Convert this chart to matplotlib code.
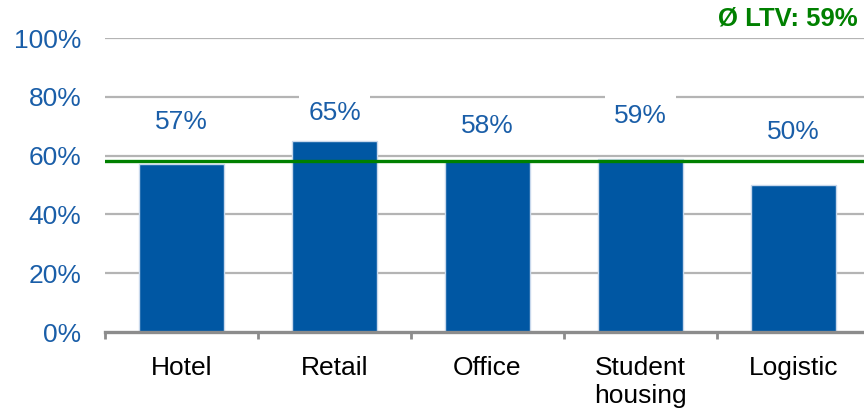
import matplotlib
matplotlib.use('Agg')
import matplotlib.pyplot as plt
from matplotlib.ticker import FixedLocator, PercentFormatter

# 数据
categories = ['Hotel', 'Retail', 'Office', 'Student\nhousing', 'Logistic']
ltv = [57, 65, 58, 59, 50]
label_y = [71.4, 74.4, 69.9, 73.3, 68.1]   # 标签所在高度 (%)
avg_ltv = 58
avg_text = 'Ø LTV: 59%'

blue = '#0057a3'
text_blue = '#1a5ea8'
green = '#008000'
grey = '#b4b4b4'

plt.rcParams['font.family'] = ['Liberation Sans', 'DejaVu Sans']

fig = plt.figure(figsize=(8.64, 4.08), dpi=100)
ax = fig.add_axes([105 / 864, 1 - 332 / 408, 765 / 864, 294 / 408])

x = range(len(categories))
ax.bar(x, ltv, width=0.55, color=blue, edgecolor='#c8d8ec', linewidth=1, zorder=2)

# 网格线
for v in [20, 40, 60, 80, 100]:
    ax.axhline(v, color=grey, linewidth=1.6, zorder=1)

# 平均线
ax.axhline(avg_ltv, color=green, linewidth=2.4, zorder=4)

# 数值标签
for i, (v, ly) in enumerate(zip(ltv, label_y)):
    ax.text(i, ly, f'{v}%', ha='center', va='center', fontsize=19, color=text_blue,
            zorder=3, bbox=dict(boxstyle='square,pad=0.35', fc='white', ec='none'))

fig.text(858 / 864, 1 - 19 / 408, avg_text, ha='right', va='center',
         fontsize=18.5, fontweight='bold', color=green)

ax.set_xlim(-0.5, 4.5)
ax.set_ylim(0, 100)
ax.yaxis.set_major_locator(FixedLocator([0, 20, 40, 60, 80, 100]))
ax.yaxis.set_major_formatter(PercentFormatter(decimals=0))
ax.tick_params(axis='y', length=0, pad=17, labelsize=19, labelcolor=text_blue)

ax.set_xticks(list(x))
ax.set_xticklabels(categories, fontsize=19, color='black', linespacing=1.25)
ax.set_xticks([i - 0.5 for i in range(len(categories) + 1)], minor=True)
ax.tick_params(axis='x', which='major', length=0, pad=17)
ax.tick_params(axis='x', which='minor', length=5, width=2, color='#8c8c8c', direction='out')

for s in ['top', 'right', 'left']:
    ax.spines[s].set_visible(False)
ax.spines['bottom'].set_color('#8c8c8c')
ax.spines['bottom'].set_linewidth(2.4)
ax.spines['bottom'].set_zorder(5)
ax.set_facecolor('none')

fig.savefig('out.png', dpi=100)
